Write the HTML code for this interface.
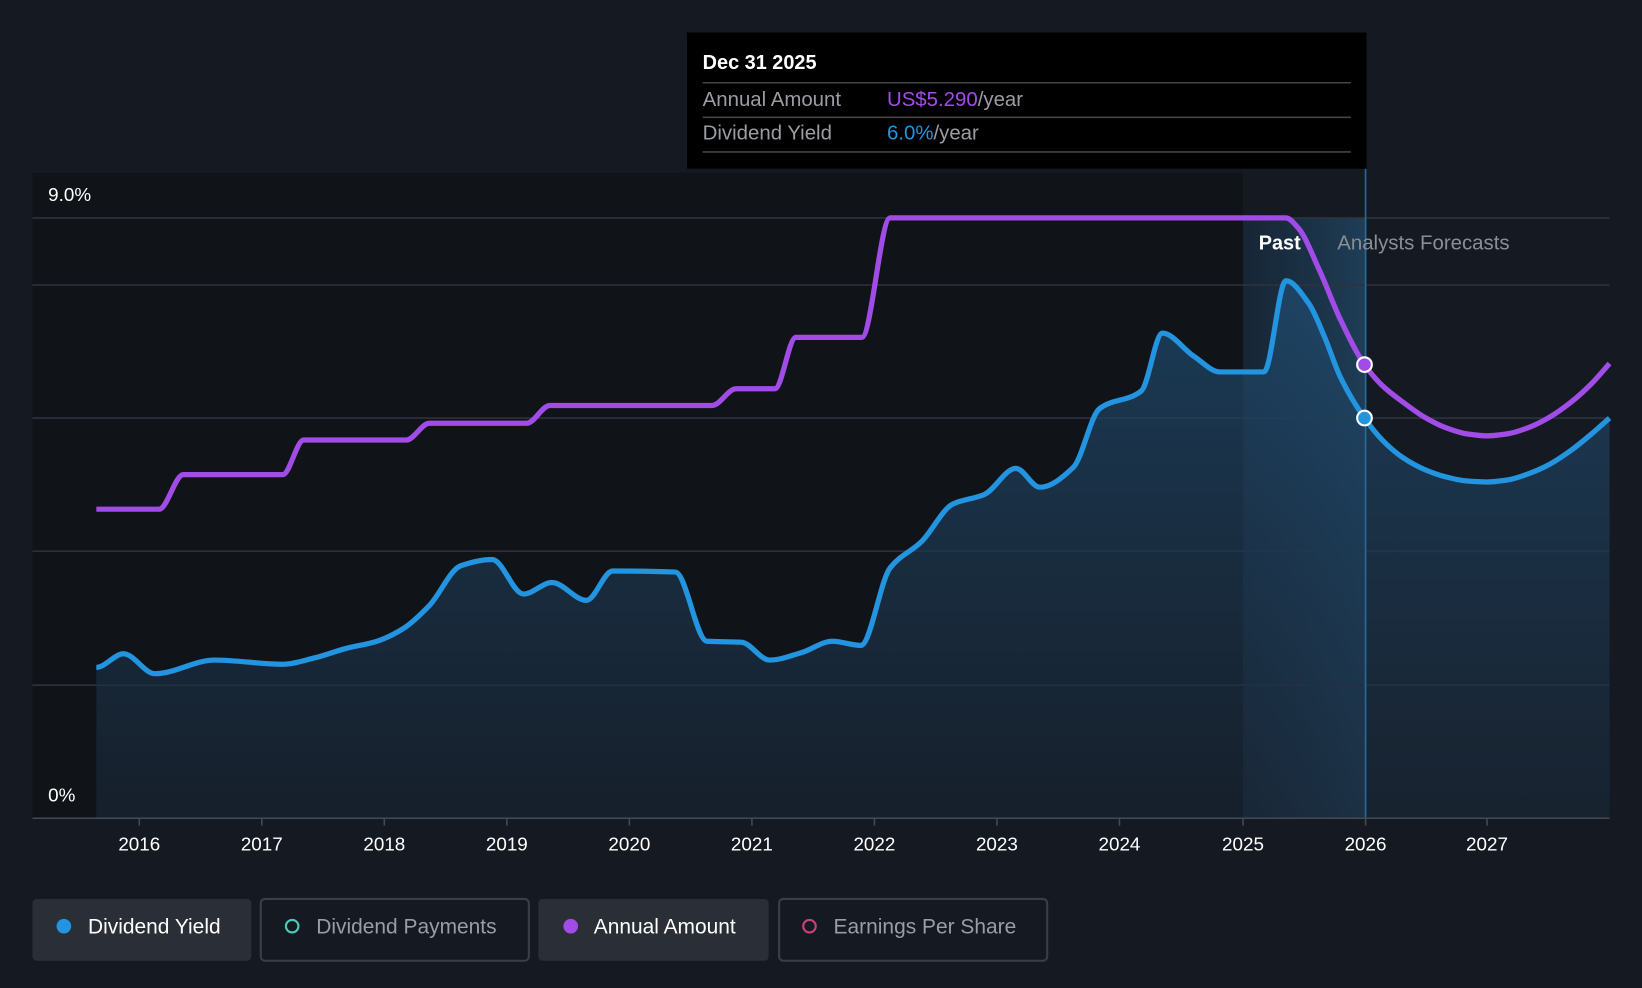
<!DOCTYPE html>
<html><head><meta charset="utf-8"><style>
html,body{margin:0;padding:0;background:#151a22;}
svg{display:block}
text{font-family:"Liberation Sans",sans-serif}
</style></head><body>
<svg width="1642" height="988" viewBox="0 0 1568 943" preserveAspectRatio="none" xmlns="http://www.w3.org/2000/svg">
<defs>
<linearGradient id="fill" x1="0" y1="0" x2="0" y2="1">
<stop offset="0" stop-color="#1f4a6e" stop-opacity="0.75"/>
<stop offset="1" stop-color="#1a2838" stop-opacity="0.6"/>
</linearGradient>
<linearGradient id="hl" x1="0" y1="0" x2="1" y2="0">
<stop offset="0" stop-color="#1e4a6e" stop-opacity="0.25"/>
<stop offset="1" stop-color="#2a6a9a" stop-opacity="0.45"/>
</linearGradient>
</defs>
<rect width="1568" height="943" fill="#151a22"/>
<rect x="31" y="165" width="1156" height="616" fill="#101318"/>
<rect x="1187" y="208" width="118" height="573" fill="url(#hl)"/>
<g stroke="#2e333c" stroke-width="1.5">
<line x1="31" y1="208" x2="1537" y2="208"/>
<line x1="31" y1="272" x2="1537" y2="272"/>
<line x1="31" y1="399" x2="1537" y2="399"/>
<line x1="31" y1="526" x2="1537" y2="526"/>
<line x1="31" y1="654" x2="1537" y2="654"/>
</g>
<path id="area" d="" fill="url(#fill)"/>
<line x1="1304" y1="161" x2="1304" y2="781" stroke="#2a6a9a" stroke-width="1.5"/>
<line x1="31" y1="781" x2="1537" y2="781" stroke="#444a54" stroke-width="1.5"/>
<g stroke="#444a54" stroke-width="1.5">
<line x1="133" y1="781" x2="133" y2="788"/><line x1="250" y1="781" x2="250" y2="788"/><line x1="367" y1="781" x2="367" y2="788"/><line x1="484" y1="781" x2="484" y2="788"/><line x1="601" y1="781" x2="601" y2="788"/><line x1="718" y1="781" x2="718" y2="788"/><line x1="835" y1="781" x2="835" y2="788"/><line x1="952" y1="781" x2="952" y2="788"/><line x1="1069" y1="781" x2="1069" y2="788"/><line x1="1187" y1="781" x2="1187" y2="788"/><line x1="1304" y1="781" x2="1304" y2="788"/><line x1="1420" y1="781" x2="1420" y2="788"/>
</g>
<path id="purple" d="" fill="none" stroke="#a24ce8" stroke-width="5" stroke-linejoin="round"/>
<path id="blue" d="" fill="none" stroke="#2394df" stroke-width="5" stroke-linejoin="round"/>
<circle cx="1303" cy="348" r="7" fill="#a24ce8" stroke="#fff" stroke-width="2"/>
<circle cx="1303" cy="399" r="7" fill="#2394df" stroke="#fff" stroke-width="2"/>
<text x="46" y="192" fill="#fff" font-size="18">9.0%</text>
<text x="46" y="765" fill="#fff" font-size="18">0%</text>
<g fill="#fff" font-size="18" text-anchor="middle">
<text x="133" y="812">2016</text><text x="250" y="812">2017</text><text x="367" y="812">2018</text><text x="484" y="812">2019</text><text x="601" y="812">2020</text><text x="718" y="812">2021</text><text x="835" y="812">2022</text><text x="952" y="812">2023</text><text x="1069" y="812">2024</text><text x="1187" y="812">2025</text><text x="1304" y="812">2026</text><text x="1420" y="812">2027</text>
</g>
<text x="1202" y="238" fill="#fff" font-size="19" font-weight="bold">Past</text>
<text x="1277" y="238" fill="#8a8e95" font-size="19.5">Analysts Forecasts</text>
<rect x="656" y="31" width="649" height="130" fill="#000"/>
<text x="671" y="66" fill="#fff" font-size="19" font-weight="bold">Dec 31 2025</text>
<g stroke="#444" stroke-width="1.5"><line x1="671" y1="79" x2="1290" y2="79"/><line x1="671" y1="112" x2="1290" y2="112"/><line x1="671" y1="145" x2="1290" y2="145"/></g>
<text x="671" y="101" fill="#9a9da3" font-size="19.5">Annual Amount</text>
<text x="847" y="101" font-size="19.5" fill="#a24ce8">US$5.290<tspan fill="#9a9da3">/year</tspan></text>
<text x="671" y="133" fill="#9a9da3" font-size="19.5">Dividend Yield</text>
<text x="847" y="133" font-size="19.5" fill="#2394df">6.0%<tspan fill="#9a9da3">/year</tspan></text>
<rect x="31" y="858" width="209" height="59" rx="4" fill="#2a2e37"/>
<circle cx="61" cy="884" r="7" fill="#2394df"/>
<text x="84" y="891" fill="#fff" font-size="20">Dividend Yield</text>
<rect x="249" y="858" width="256" height="59" rx="4" fill="none" stroke="#3a3e47" stroke-width="2"/>
<circle cx="279" cy="884" r="6" fill="none" stroke="#4ec9b8" stroke-width="2"/>
<text x="302" y="891" fill="#9a9da3" font-size="20">Dividend Payments</text>
<rect x="514" y="858" width="220" height="59" rx="4" fill="#2a2e37"/>
<circle cx="545" cy="884" r="7" fill="#a24ce8"/>
<text x="567" y="891" fill="#fff" font-size="20">Annual Amount</text>
<rect x="744" y="858" width="256" height="59" rx="4" fill="none" stroke="#3a3e47" stroke-width="2"/>
<circle cx="773" cy="884" r="6" fill="none" stroke="#c8407a" stroke-width="2"/>
<text x="796" y="891" fill="#9a9da3" font-size="20">Earnings Per Share</text>
</svg>
<script>
function mono(p){
  var n=p.length,d=[],m=[];
  for(var i=0;i<n-1;i++){d.push((p[i+1][1]-p[i][1])/(p[i+1][0]-p[i][0]));}
  for(var i=1;i<n-1;i++){
    if(d[i-1]*d[i]<=0)m[i]=0;
    else{var h0=p[i][0]-p[i-1][0],h1=p[i+1][0]-p[i][0];
      m[i]=3*(h0+h1)/((2*h1+h0)/d[i-1]+(h1+2*h0)/d[i]);}
  }
  m[0]=0;m[n-1]=d[n-2];
  var s="M"+p[0][0]+","+p[0][1];
  for(var i=0;i<n-1;i++){
    var h=(p[i+1][0]-p[i][0])/3;
    s+=" C"+(p[i][0]+h)+","+(p[i][1]+m[i]*h)+" "+(p[i+1][0]-h)+","+(p[i+1][1]-m[i+1]*h)+" "+p[i+1][0]+","+p[i+1][1];
  }
  return s;
}
var B=[[92,637],[118,624],[148,643],[205,630],[270,634],[300,628],[330,619],[360,612],[385,600],[410,578],[440,540],[470,534],[500,567],[527,556],[560,573],[585,545],[645,546],[675,612],[708,613],[735,630],[765,623],[795,612],[822,616],[850,542],[880,517],[910,481],[940,472],[970,447],[993,465],[1025,446],[1050,390],[1090,373],[1110,318],[1140,340],[1165,355],[1207,355],[1228,268],[1250,290],[1265,322],[1280,360],[1303,399],[1320,420],[1340,437],[1360,448],[1380,455],[1400,459],[1420,460],[1440,458],[1460,452],[1480,443],[1500,430],[1520,414],[1537,399]];
var P=[[92,486],[152,486],[175,453],[270,453],[290,420],[388,420],[410,404],[503,404],[525,387],[680,387],[703,371],[740,371],[760,322],[823,322],[850,208],[1228,208],[1240,218],[1260,258],[1280,305],[1303,348],[1320,368],[1340,384],[1360,398],[1380,408],[1400,414],[1420,416],[1440,414],[1460,408],[1480,398],[1500,384],[1520,366],[1537,347]];
var b=mono(B);
document.getElementById('blue').setAttribute('d',b);
document.getElementById('area').setAttribute('d',b+" L1537,781 L92,781 Z");
document.getElementById('purple').setAttribute('d',mono(P));
</script>
</body></html>
